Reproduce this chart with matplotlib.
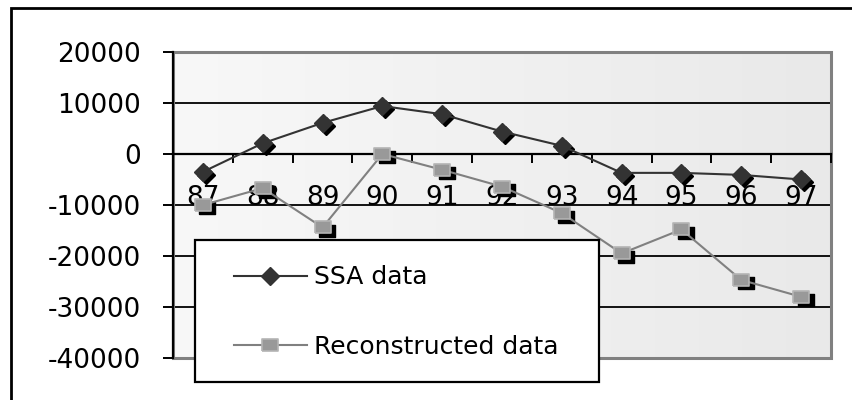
import numpy as np
import matplotlib
matplotlib.use('Agg')
import matplotlib.pyplot as plt
import matplotlib.transforms as mtransforms
from matplotlib.patches import Rectangle
from matplotlib.path import Path

years = ['87', '88', '89', '90', '91', '92', '93', '94', '95', '96', '97']
ssa_data = [-3500, 2100, 6100, 9400, 7800, 4400, 1600, -3700, -3700, -4100, -5000]
reconstructed = [-10000, -6700, -14400, 0, -3100, -6400, -11600, -19500, -14800, -24700, -28000]
yticks = [20000, 10000, 0, -10000, -20000, -30000, -40000]

plt.rcParams['font.family'] = ['DejaVu Sans']
fs = 19

fig = plt.figure(figsize=(8.52, 4.0), dpi=100)
ax = fig.add_axes([173 / 852, 1 - 358 / 400, (831 - 173) / 852, (358 - 52) / 400])

x = np.arange(len(years))
ax.set_xlim(-0.5, len(years) - 0.5)
ax.set_ylim(-40000, 20000)

# plot area fill, light grey fading to the right
grad = np.linspace(0, 1, 256).reshape(1, -1)
ax.imshow(grad, cmap=matplotlib.colors.LinearSegmentedColormap.from_list('bg', ['#f8f8f8', '#e9e9e9']),
          extent=[0, 1, 0, 1], transform=ax.transAxes, aspect='auto', zorder=0)

for v in yticks[1:-1]:
    if v != 0:
        ax.axhline(v, color='black', lw=1.3, zorder=1)

# frame around plot area
for s in ['top', 'right']:
    ax.spines[s].set_visible(False)
ax.add_patch(Rectangle((0, 0), 1, 1, transform=ax.transAxes, fill=False,
                       edgecolor='#808080', lw=2.2, zorder=1.5, clip_on=False))
ax.spines['left'].set_color('black')
ax.spines['left'].set_linewidth(1.6)
ax.spines['left'].set_zorder(2)
ax.spines['bottom'].set_position(('data', 0))
ax.spines['bottom'].set_color('black')
ax.spines['bottom'].set_linewidth(1.6)

ax.set_yticks(yticks)
ax.set_yticklabels([str(v) for v in yticks])
ax.tick_params(axis='y', direction='out', length=7.2, width=1.4, pad=16, labelsize=fs)

ax.set_xticks(np.arange(-0.5, len(years), 1.0))
ax.set_xticklabels([])
ax.set_xticks(x, minor=True)
ax.set_xticklabels(years, minor=True)
ax.tick_params(axis='x', which='major', direction='out', length=6.5, width=1.4)
ax.tick_params(axis='x', which='minor', length=0, pad=22, labelsize=fs)

# drop shadows under the markers
sh_d = mtransforms.offset_copy(ax.transData, fig=fig, x=3, y=-3, units='dots')
sh_s = mtransforms.offset_copy(ax.transData, fig=fig, x=4.5, y=-3.5, units='dots')
rect = Path([(-1, -0.8), (1, -0.8), (1, 0.8), (-1, 0.8), (-1, -0.8)])

ax.plot(x, ssa_data, ls='none', marker='D', ms=9, color='black', transform=sh_d, zorder=3)
ax.plot(x, reconstructed, ls='none', marker=rect, ms=11, color='black', transform=sh_s, zorder=3)

l1, = ax.plot(x, ssa_data, color='#333333', lw=1.5, marker='D', ms=9,
              mfc='#333333', mec='#333333', zorder=4, label='SSA data')
l2, = ax.plot(x, reconstructed, color='#808080', lw=1.5, marker=rect, ms=11,
              mfc='#999999', mec='#b4b4b4', mew=1.2, zorder=4, label='Reconstructed data')

# legend box
fig.add_artist(Rectangle((195 / 852, 1 - 382 / 400), (599 - 195) / 852, (382 - 240) / 400,
                         transform=fig.transFigure, facecolor='white', edgecolor='black',
                         lw=1.6, zorder=4))
fig.legend(handles=[l1, l2], loc='center left', bbox_to_anchor=(234 / 852, 1 - 312 / 400),
           frameon=False, fontsize=18, handlelength=2.9, handletextpad=0.3,
           labelspacing=1.82, borderpad=0, borderaxespad=0).set_zorder(5)

# outer chart border
fig.add_artist(Rectangle((11 / 852, -0.05), 1.0, 1.05 - 8 / 400, transform=fig.transFigure,
                         fill=False, edgecolor='black', lw=2, zorder=6))

fig.savefig('out.png', dpi=100)
